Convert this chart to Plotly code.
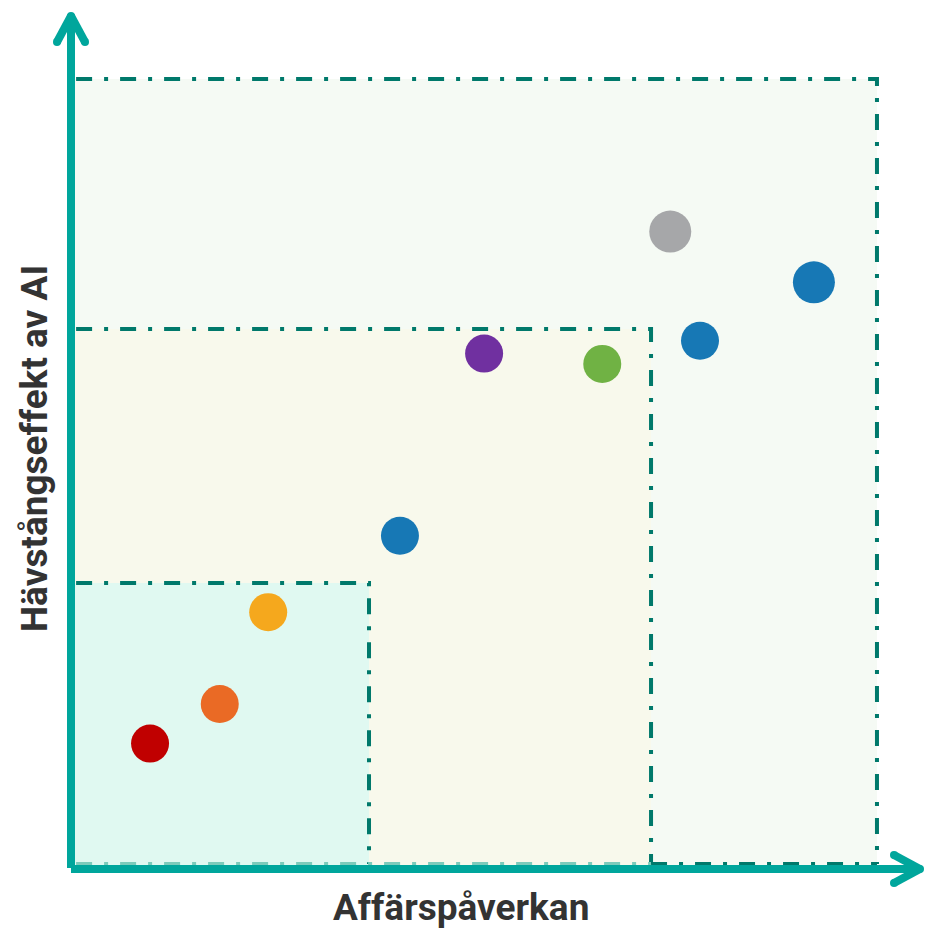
import plotly.graph_objects as go

# ---------------- data ----------------
x_label = "Affärspåverkan"
y_label = "Hävstångseffekt av AI"

point_x = [0.93, 1.75, 2.32, 3.87, 4.86, 6.25, 7.05, 7.40, 8.74]
point_y = [1.46, 1.92, 2.99, 3.88, 6.00, 5.88, 7.42, 6.15, 6.83]
point_colors = ["#c00000", "#ea6a25", "#f5a81d", "#1778b5", "#7030a0",
                "#70b244", "#a6a7a9", "#1778b5", "#1778b5"]
point_sizes = [38, 38, 38, 38, 38, 38, 42, 38, 42]

# nested zones: inner, middle, outer (upper-right corners)
zone_x1 = [3.506, 6.824, 9.482]
zone_y1 = [3.329, 6.286, 9.197]
zone_fill = ["#e0f9f1", "#f8f9ec", "#f5faf4"]
zone_bottom = 0.058
zone_left = 0.06

# ---------------- styling ----------------
W, H = 925, 928
ML, MR, MT, MB = 71, 4, 10, 59
PW, PH = W - ML - MR, H - MT - MB
AXIS_COL = "#00a69c"
BORDER_COL = "#00796b"
BORDER_LIGHT = "#7ccbbb"
DASH = "16px,12px,4px,12px"


def px_x(p):
    return (p - ML) / PW


def px_y(p):
    return (H - MB - p) / PH


fig = go.Figure()

fig.add_trace(go.Scatter(
    x=point_x, y=point_y, mode="markers",
    marker=dict(color=point_colors, size=point_sizes, line=dict(width=0), opacity=1),
    hoverinfo="skip", showlegend=False,
))

shapes = []
# zone fills, outer first
for i in [2, 1, 0]:
    shapes.append(dict(type="rect", xref="x", yref="y", x0=0, y0=0,
                       x1=zone_x1[i], y1=zone_y1[i], fillcolor=zone_fill[i],
                       line=dict(width=0), layer="below"))
# zone borders (top + right)
for i in [2, 1, 0]:
    path = (f"M {zone_left},{zone_y1[i]} L {zone_x1[i]},{zone_y1[i]} "
            f"L {zone_x1[i]},{zone_bottom}")
    shapes.append(dict(type="path", xref="x", yref="y", path=path,
                       line=dict(color=BORDER_COL, width=4, dash=DASH),
                       layer="below"))
# bottom border
shapes.append(dict(type="line", xref="x", yref="y", x0=zone_left, y0=zone_bottom,
                   x1=zone_x1[1], y1=zone_bottom,
                   line=dict(color=BORDER_LIGHT, width=4, dash=DASH), layer="below"))
shapes.append(dict(type="line", xref="x", yref="y", x0=zone_x1[1], y0=zone_bottom,
                   x1=zone_x1[2], y1=zone_bottom,
                   line=dict(color=BORDER_COL, width=4, dash=DASH), layer="below"))

# axis arrows (paper coords derived from pixels)
ax_line = dict(color=AXIS_COL, width=8)
shapes.append(dict(type="line", xref="paper", yref="paper", x0=px_x(71), y0=px_y(868),
                   x1=px_x(71), y1=px_y(16), line=ax_line))
shapes.append(dict(type="line", xref="paper", yref="paper", x0=px_x(71), y0=px_y(869),
                   x1=px_x(920), y1=px_y(869), line=ax_line))
chevrons = [
    ((71, 16), [(57, 42), (85, 42)]),
    ((920, 869), [(894, 855), (894, 883)]),
]
for tip, arms in chevrons:
    for a in arms:
        shapes.append(dict(type="line", xref="paper", yref="paper",
                           x0=px_x(a[0]), y0=px_y(a[1]), x1=px_x(tip[0]), y1=px_y(tip[1]),
                           line=ax_line))
    for c in [tip] + arms:
        shapes.append(dict(type="circle", xref="paper", yref="paper",
                           x0=px_x(c[0] - 4), x1=px_x(c[0] + 4),
                           y0=px_y(c[1] + 4), y1=px_y(c[1] - 4),
                           fillcolor=AXIS_COL, line=dict(width=0)))

annotations = [
    dict(text=x_label, xref="paper", yref="paper", x=px_x(461), y=px_y(908),
         xanchor="center", yanchor="middle", showarrow=False,
         font=dict(family="Roboto", size=37, color="#333333", weight="bold")),
    dict(text=y_label, xref="paper", yref="paper", x=px_x(35), y=px_y(449),
         xanchor="center", yanchor="middle", showarrow=False, textangle=-90,
         font=dict(family="Roboto", size=37, color="#333333", weight="bold")),
]

fig.update_layout(
    width=W, height=H,
    margin=dict(l=ML, r=MR, t=MT, b=MB, pad=0),
    paper_bgcolor="white", plot_bgcolor="white",
    xaxis=dict(range=[0, 10], visible=False, fixedrange=True),
    yaxis=dict(range=[0, 10], visible=False, fixedrange=True),
    shapes=shapes, annotations=annotations,
    showlegend=False,
)

fig.write_html("out.html", config={"displayModeBar": False},
               post_script="document.body.style.margin='0';")
